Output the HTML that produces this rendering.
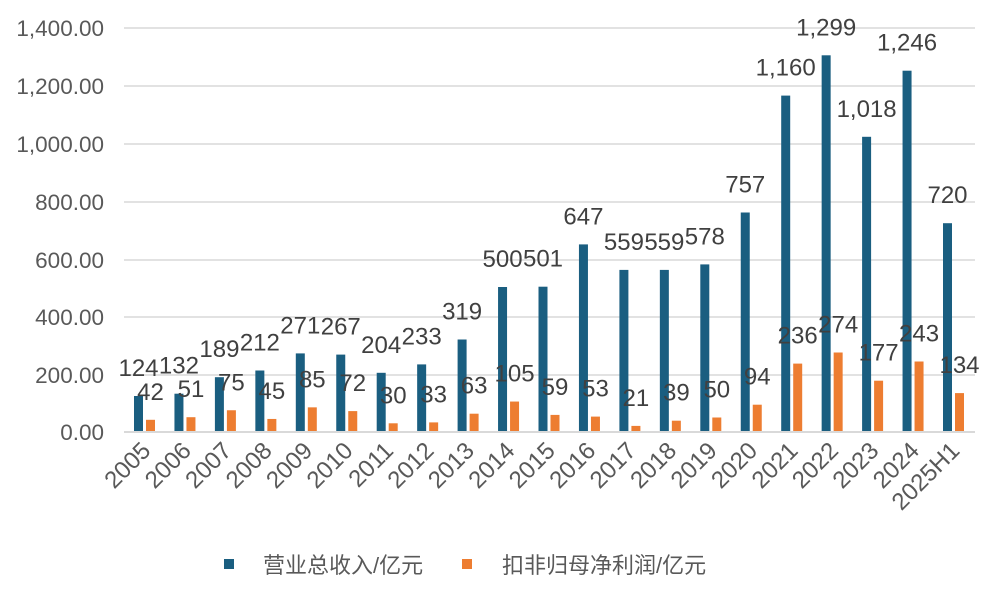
<!DOCTYPE html>
<html><head><meta charset="utf-8"><style>
html,body{margin:0;padding:0;background:#fff;}
svg{display:block;font-family:"Liberation Sans","Noto Sans CJK SC",sans-serif;}
</style></head><body>
<svg width="999" height="597" viewBox="0 0 999 597" xmlns="http://www.w3.org/2000/svg">
<g stroke="#d9d9d9" stroke-width="1.5">
<line x1="124" x2="975" y1="28" y2="28"/><line x1="124" x2="975" y1="86" y2="86"/><line x1="124" x2="975" y1="144" y2="144"/><line x1="124" x2="975" y1="202" y2="202"/><line x1="124" x2="975" y1="260" y2="260"/><line x1="124" x2="975" y1="317" y2="317"/><line x1="124" x2="975" y1="375" y2="375"/><line x1="124" x2="975" y1="432" y2="432"/>
</g>
<g fill="#595959" font-size="22.5" text-anchor="end">
<text x="104" y="36">1,400.00</text><text x="104" y="94">1,200.00</text><text x="104" y="152">1,000.00</text><text x="104" y="210">800.00</text><text x="104" y="268">600.00</text><text x="104" y="325">400.00</text><text x="104" y="383">200.00</text><text x="104" y="440">0.00</text>
</g>
<g fill="#1a5e80">
<rect x="134" y="396" width="9" height="36"/><rect x="174.45" y="393.7" width="9" height="38.3"/><rect x="214.9" y="377.2" width="9" height="54.8"/><rect x="255.35" y="370.5" width="9" height="61.5"/><rect x="295.8" y="353.4" width="9" height="78.6"/><rect x="336.25" y="354.6" width="9" height="77.4"/><rect x="376.7" y="372.8" width="9" height="59.2"/><rect x="417.15" y="364.4" width="9" height="67.6"/><rect x="457.6" y="339.5" width="9" height="92.5"/><rect x="498.05" y="287" width="9" height="145"/><rect x="538.5" y="286.7" width="9" height="145.3"/><rect x="578.95" y="244.4" width="9" height="187.6"/><rect x="619.4" y="269.9" width="9" height="162.1"/><rect x="659.85" y="269.9" width="9" height="162.1"/><rect x="700.3" y="264.4" width="9" height="167.6"/><rect x="740.75" y="212.5" width="9" height="219.5"/><rect x="781.2" y="95.6" width="9" height="336.4"/><rect x="821.65" y="55.3" width="9" height="376.7"/><rect x="862.1" y="136.8" width="9" height="295.2"/><rect x="902.55" y="70.7" width="9" height="361.3"/><rect x="943" y="223.2" width="9" height="208.8"/>
</g>
<g fill="#ed7d31">
<rect x="146" y="419.8" width="9" height="12.2"/><rect x="186.45" y="417.2" width="9" height="14.8"/><rect x="226.9" y="410.25" width="9" height="21.75"/><rect x="267.35" y="418.95" width="9" height="13.05"/><rect x="307.8" y="407.35" width="9" height="24.65"/><rect x="348.25" y="411.1" width="9" height="20.9"/><rect x="388.7" y="423.3" width="9" height="8.7"/><rect x="429.15" y="422.4" width="9" height="9.6"/><rect x="469.6" y="413.7" width="9" height="18.3"/><rect x="510.05" y="401.55" width="9" height="30.45"/><rect x="550.5" y="414.9" width="9" height="17.1"/><rect x="590.95" y="416.6" width="9" height="15.4"/><rect x="631.4" y="425.9" width="9" height="6.1"/><rect x="671.85" y="420.7" width="9" height="11.3"/><rect x="712.3" y="417.5" width="9" height="14.5"/><rect x="752.75" y="404.7" width="9" height="27.3"/><rect x="793.2" y="363.6" width="9" height="68.4"/><rect x="833.65" y="352.5" width="9" height="79.5"/><rect x="874.1" y="380.7" width="9" height="51.3"/><rect x="914.55" y="361.5" width="9" height="70.5"/><rect x="955" y="393.1" width="9" height="38.9"/>
</g>
<line x1="124" x2="975" y1="432" y2="432" stroke="#d9d9d9" stroke-width="2"/>
<g fill="#404040" font-size="24" text-anchor="middle">
<text x="138.5" y="376">124</text><text x="178.95" y="373.7">132</text><text x="219.4" y="357.2">189</text><text x="259.85" y="350.5">212</text><text x="300.3" y="333.4">271</text><text x="340.75" y="334.6">267</text><text x="381.2" y="352.8">204</text><text x="421.65" y="344.4">233</text><text x="462.1" y="319.5">319</text><text x="502.55" y="267">500</text><text x="543" y="266.7">501</text><text x="583.45" y="224.4">647</text><text x="623.9" y="249.9">559</text><text x="664.35" y="249.9">559</text><text x="704.8" y="244.4">578</text><text x="745.25" y="192.5">757</text><text x="785.7" y="75.6">1,160</text><text x="826.15" y="35.3">1,299</text><text x="866.6" y="116.8">1,018</text><text x="907.05" y="50.7">1,246</text><text x="947.5" y="203.2">720</text>
<text x="150.5" y="399.8">42</text><text x="190.95" y="397.2">51</text><text x="231.4" y="390.25">75</text><text x="271.85" y="398.95">45</text><text x="312.3" y="387.35">85</text><text x="352.75" y="391.1">72</text><text x="393.2" y="403.3">30</text><text x="433.65" y="402.4">33</text><text x="474.1" y="393.7">63</text><text x="514.55" y="381.55">105</text><text x="555" y="394.9">59</text><text x="595.45" y="396.6">53</text><text x="635.9" y="405.9">21</text><text x="676.35" y="400.7">39</text><text x="716.8" y="397.5">50</text><text x="757.25" y="384.7">94</text><text x="797.7" y="343.6">236</text><text x="838.15" y="332.5">274</text><text x="878.6" y="360.7">177</text><text x="919.05" y="341.5">243</text><text x="959.5" y="373.1">134</text>
</g>
<g fill="#595959" font-size="24" text-anchor="end">
<text transform="translate(152,452) rotate(-45)">2005</text><text transform="translate(192.45,452) rotate(-45)">2006</text><text transform="translate(232.9,452) rotate(-45)">2007</text><text transform="translate(273.35,452) rotate(-45)">2008</text><text transform="translate(313.8,452) rotate(-45)">2009</text><text transform="translate(354.25,452) rotate(-45)">2010</text><text transform="translate(394.7,452) rotate(-45)">2011</text><text transform="translate(435.15,452) rotate(-45)">2012</text><text transform="translate(475.6,452) rotate(-45)">2013</text><text transform="translate(516.05,452) rotate(-45)">2014</text><text transform="translate(556.5,452) rotate(-45)">2015</text><text transform="translate(596.95,452) rotate(-45)">2016</text><text transform="translate(637.4,452) rotate(-45)">2017</text><text transform="translate(677.85,452) rotate(-45)">2018</text><text transform="translate(718.3,452) rotate(-45)">2019</text><text transform="translate(758.75,452) rotate(-45)">2020</text><text transform="translate(799.2,452) rotate(-45)">2021</text><text transform="translate(839.65,452) rotate(-45)">2022</text><text transform="translate(880.1,452) rotate(-45)">2023</text><text transform="translate(920.55,452) rotate(-45)">2024</text><text transform="translate(961,452) rotate(-45)">2025H1</text>
</g>
<rect x="224" y="559" width="10" height="10" fill="#1a5e80"/>
<text x="263" y="573" font-size="22" fill="#595959">营业总收入/亿元</text>
<rect x="462" y="559" width="10" height="10" fill="#ed7d31"/>
<text x="502" y="573" font-size="22" fill="#595959">扣非归母净利润/亿元</text>
</svg>
</body></html>
